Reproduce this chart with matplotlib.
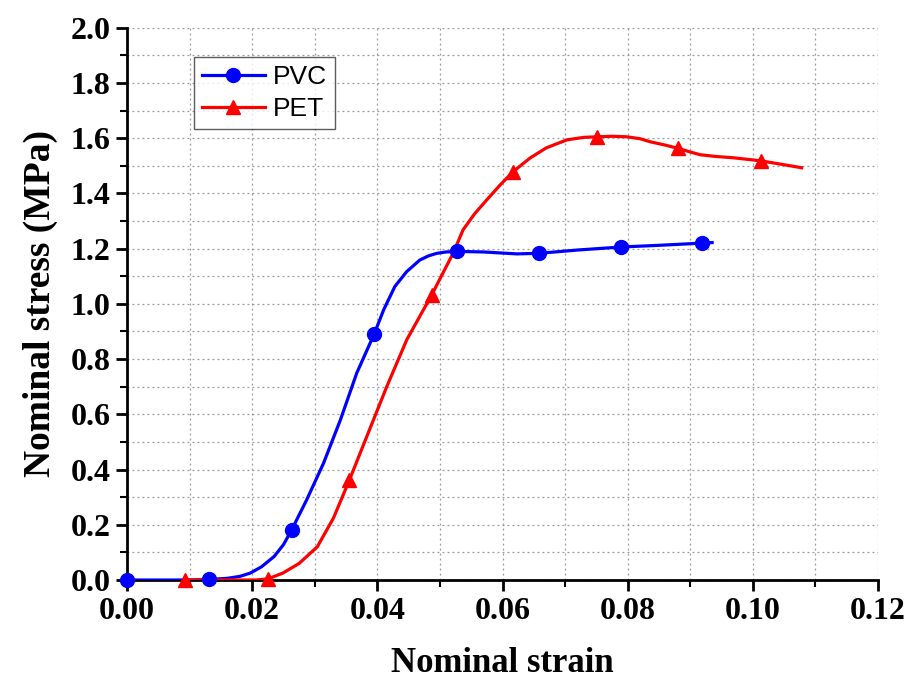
import matplotlib
matplotlib.use("Agg")
import matplotlib.pyplot as plt
from matplotlib.lines import Line2D
from matplotlib.ticker import MultipleLocator, FormatStrFormatter

# Smooth curve readings
pvc_curve_x = [0.0, 0.005, 0.010, 0.0131, 0.016, 0.0180, 0.0197, 0.0215, 0.0235, 0.0250, 0.0263,
               0.0287, 0.0314, 0.0341, 0.0367, 0.0395, 0.0410, 0.0428, 0.0447, 0.0468,
               0.0482, 0.0495, 0.0510, 0.0527, 0.0569, 0.0623, 0.0658, 0.0720, 0.0790,
               0.0850, 0.0919, 0.0935]
pvc_curve_y = [0.0, 0.0, 0.0, 0.002, 0.006, 0.013, 0.025, 0.048, 0.085, 0.128, 0.181,
               0.290, 0.423, 0.580, 0.749, 0.891, 0.978, 1.063, 1.117, 1.159,
               1.174, 1.183, 1.188, 1.190, 1.188, 1.181, 1.183, 1.195, 1.206,
               1.212, 1.220, 1.222]

pet_curve_x = [0.0093, 0.015, 0.0205, 0.0225, 0.0249, 0.0275, 0.0304, 0.0330, 0.0355,
               0.0383, 0.0415, 0.0447, 0.0487, 0.0521, 0.0537, 0.0555, 0.0575, 0.0596,
               0.0617, 0.0644, 0.0670, 0.0703, 0.0730, 0.0751, 0.0775, 0.0799, 0.0820,
               0.0836, 0.0860, 0.0881, 0.0900, 0.0916, 0.0940, 0.0969, 0.1013, 0.1078]
pet_curve_y = [0.0, 0.0, 0.0, 0.004, 0.025, 0.060, 0.120, 0.225, 0.360,
               0.519, 0.700, 0.870, 1.033, 1.183, 1.268, 1.325, 1.377, 1.430,
               1.479, 1.528, 1.565, 1.594, 1.603, 1.605, 1.607, 1.605, 1.598,
               1.587, 1.575, 1.563, 1.550, 1.540, 1.534, 1.529, 1.518, 1.493]

# Marker positions
pvc_mark_x = [0.0, 0.0131, 0.0263, 0.0395, 0.0527, 0.0658, 0.0790, 0.0919]
pvc_mark_y = [0.0, 0.003, 0.181, 0.891, 1.190, 1.183, 1.206, 1.220]
pet_mark_x = [0.0093, 0.0225, 0.0355, 0.0487, 0.0617, 0.0751, 0.0881, 0.1013]
pet_mark_y = [0.0, 0.004, 0.362, 1.033, 1.479, 1.605, 1.565, 1.518]

x_ticks = [0.00, 0.02, 0.04, 0.06, 0.08, 0.10, 0.12]
y_ticks = [0.0, 0.2, 0.4, 0.6, 0.8, 1.0, 1.2, 1.4, 1.6, 1.8, 2.0]

series_labels = ["PVC", "PET"]

serif = "Liberation Serif"
sans = "Liberation Sans"
W, H = 910, 683

fig = plt.figure(figsize=(W / 100, H / 100), dpi=100)
ax = fig.add_axes([0.1396, 0.1508, 0.8252, 0.8086])

ax.plot(pvc_curve_x, pvc_curve_y, color="#0000ff", lw=2.3, zorder=3, solid_joinstyle="round")
ax.plot(pet_curve_x, pet_curve_y, color="#ff0000", lw=2.3, zorder=3, solid_joinstyle="round")
ax.plot(pvc_mark_x, pvc_mark_y, ls="none", marker="o", ms=10, color="#0000ff", zorder=4, clip_on=False)
ax.plot(pet_mark_x, pet_mark_y, ls="none", marker="^", ms=10, color="#ff0000", zorder=4, clip_on=False)

ax.set_xlim(0, 0.12)
ax.set_ylim(0, 2.0)
ax.set_xticks(x_ticks)
ax.set_yticks(y_ticks)
ax.xaxis.set_minor_locator(MultipleLocator(0.01))
ax.yaxis.set_minor_locator(MultipleLocator(0.1))
ax.xaxis.set_major_formatter(FormatStrFormatter("%.2f"))
ax.yaxis.set_major_formatter(FormatStrFormatter("%.1f"))

for s in ["top", "right"]:
    ax.spines[s].set_visible(False)
for s in ["left", "bottom"]:
    ax.spines[s].set_linewidth(2.0)
    ax.spines[s].set_color("black")

ax.tick_params(which="major", direction="out", length=8, width=2, pad=4)
ax.tick_params(which="minor", direction="out", length=5, width=1.5)
for lab in ax.get_xticklabels() + ax.get_yticklabels():
    lab.set_fontfamily(serif)
    lab.set_fontweight("bold")
    lab.set_fontsize(23)

ax.grid(True, which="both", color="#999999", linestyle=(0, (1.5, 2.5)), lw=0.9, zorder=0)
ax.set_axisbelow(True)

ax.set_xlabel("Nominal strain", fontfamily=serif, fontweight="bold", fontsize=25, labelpad=15)
ax.set_ylabel("Nominal stress (MPa)", fontfamily=serif, fontweight="bold", fontsize=27, labelpad=9)

handles = [Line2D([], [], color="#0000ff", lw=2.3, marker="o", ms=10),
           Line2D([], [], color="#ff0000", lw=2.3, marker="^", ms=10)]
leg = ax.legend(handles, series_labels, loc="upper left", bbox_to_anchor=(0.089, 0.947),
                prop={"family": sans, "size": 19}, frameon=True, fancybox=False,
                edgecolor="#333333", handlelength=2.4, handletextpad=0.3,
                borderpad=0.3, labelspacing=0.3, borderaxespad=0)
leg.get_frame().set_linewidth(1.0)
leg.get_frame().set_facecolor("white")

fig.savefig("out.png", dpi=100)
